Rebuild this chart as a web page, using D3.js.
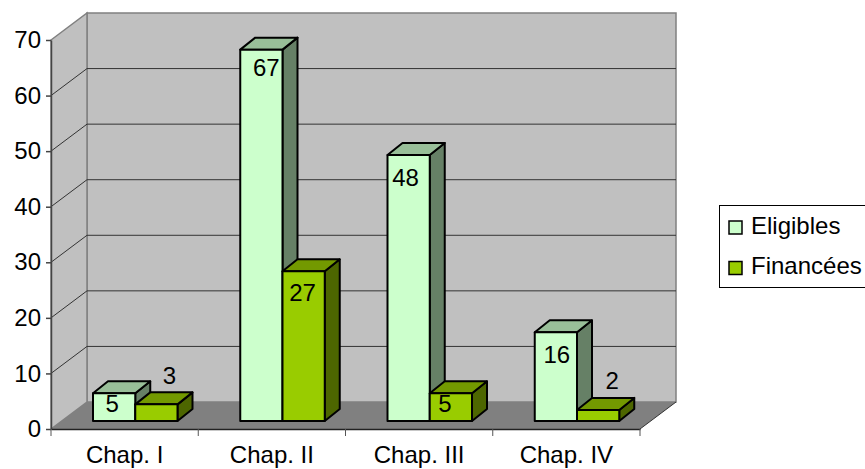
<!DOCTYPE html>
<html>
<head>
<meta charset="utf-8">
<script src="https://cdn.jsdelivr.net/npm/d3@7"></script>
<style>
  html, body { margin: 0; padding: 0; background: #fff; }
  svg { display: block; }
  text { font-family: "Liberation Sans", Arial, sans-serif; fill: #000; }
</style>
</head>
<body>
<div id="chart"></div>
<script>
// Data
const categories = ["Chap. I", "Chap. II", "Chap. III", "Chap. IV"];
const seriesNames = ["Eligibles", "Financées"];
const eligibles = [5, 67, 48, 16];
const financees = [3, 27, 5, 2];
const yTicks = [0, 10, 20, 30, 40, 50, 60, 70];

const width = 865, height = 469;
const wallDx = 36, wallDy = -27;   // depth of the floor / side wall
const barDx = 15, barDy = -12;     // depth of one bar
const fontSize = 24;

// value labels sit by hand in the original, nudges from the bar's top centre
const labelNudge = [
  { dx: [-2, 5, -3, 1], dy: [19, 26, 31, 31] },
  { dx: [13, -1, -6, 14], dy: [-20, 30, 19, -21] }
];

const colors = {
  wall: "#c0c0c0", floor: "#808080", edge: "#808080",
  front: ["#ccffcc", "#99cc00"],
  top: ["#99bf99", "#739900"],
  side: ["#668066", "#4d6600"]
};

const svg = d3.select("#chart").append("svg")
  .attr("width", width)
  .attr("height", height);

// Scales
const x = d3.scaleBand().domain(categories).range([51, 640]);
const xBar = d3.scaleBand().domain(seriesNames).range([42, 126.5]);
const y = d3.scaleLinear().domain([0, 70]).range([429, 40]);
// bars stand a bit inside the floor, so they get their own range
const yBar = d3.scaleLinear().domain([0, 70]).range([421, 33]);

const x0 = x.range()[0], x1 = x.range()[1];
const y0 = y(0), yMax = y(70);
const poly = pts => pts.map(p => p.join(",")).join(" ");

// Back wall, side wall, floor
svg.append("polygon")
  .attr("points", poly([[x0 + wallDx, yMax + wallDy], [x1 + wallDx, yMax + wallDy], [x1 + wallDx, y0 + wallDy], [x0 + wallDx, y0 + wallDy]]))
  .attr("fill", colors.wall).attr("stroke", colors.edge).attr("stroke-width", 1.5);
svg.append("polygon")
  .attr("points", poly([[x0, yMax], [x0 + wallDx, yMax + wallDy], [x0 + wallDx, y0 + wallDy], [x0, y0]]))
  .attr("fill", colors.wall).attr("stroke", colors.edge).attr("stroke-width", 1.5);
svg.append("polygon")
  .attr("points", poly([[x0, y0], [x1, y0], [x1 + wallDx, y0 + wallDy], [x0 + wallDx, y0 + wallDy]]))
  .attr("fill", colors.floor);

// Gridlines
const grid = svg.append("g").attr("fill", "none").attr("stroke", "#333").attr("stroke-width", 1);
yTicks.filter(t => t > 0 && t < 70).forEach(t => {
  grid.append("polyline")
    .attr("points", poly([[x0, y(t)], [x0 + wallDx, y(t) + wallDy], [x1 + wallDx, y(t) + wallDy]]));
});

// Floor front-right edge
svg.append("line")
  .attr("x1", x1).attr("y1", y0).attr("x2", x1 + wallDx).attr("y2", y0 + wallDy)
  .attr("stroke", "#333").attr("stroke-width", 1);

// Axes
const axisY = svg.append("g").attr("transform", `translate(${x0},0)`)
  .call(d3.axisLeft(y).tickValues(yTicks).tickSize(5).tickPadding(5).tickSizeOuter(0));
axisY.selectAll("text").style("font-size", fontSize + "px").attr("font-family", null);
axisY.selectAll("path,line").attr("stroke", "#444").attr("stroke-width", 1.5);

const axisX = svg.append("g").attr("transform", `translate(0,${y0})`)
  .call(d3.axisBottom(x).tickSize(0).tickPadding(17).tickSizeOuter(0));
axisX.selectAll("text").style("font-size", fontSize + "px").attr("font-family", null);
axisX.select("path").attr("stroke", "#222").attr("stroke-width", 1.5);
axisX.selectAll("line").remove();
axisX.selectAll(".sep")
  .data(d3.range(categories.length + 1))
  .enter().append("line")
    .attr("class", "sep")
    .attr("x1", i => x0 + i * x.bandwidth())
    .attr("x2", i => x0 + i * x.bandwidth())
    .attr("y1", 0).attr("y2", 7)
    .attr("stroke", "#555").attr("stroke-width", 1);

// Bars: 3D box for each value
const rows = [];
categories.forEach((c, i) => {
  rows.push({ cat: c, i: i, s: 0, name: seriesNames[0], value: eligibles[i] });
  rows.push({ cat: c, i: i, s: 1, name: seriesNames[1], value: financees[i] });
});

const boxes = svg.append("g").selectAll("g").data(rows).enter().append("g")
  .attr("stroke", "#000").attr("stroke-width", 2).attr("stroke-linejoin", "round");

const bx = d => x(d.cat) + xBar(d.name);
const bw = xBar.bandwidth();
const by = d => yBar(d.value);
const bb = yBar(0);

boxes.append("polygon")
  .attr("fill", d => colors.side[d.s])
  .attr("points", d => poly([[bx(d) + bw, by(d)], [bx(d) + bw + barDx, by(d) + barDy], [bx(d) + bw + barDx, bb + barDy], [bx(d) + bw, bb]]));
boxes.append("polygon")
  .attr("fill", d => colors.top[d.s])
  .attr("points", d => poly([[bx(d), by(d)], [bx(d) + bw, by(d)], [bx(d) + bw + barDx, by(d) + barDy], [bx(d) + barDx, by(d) + barDy]]));
boxes.append("rect")
  .attr("fill", d => colors.front[d.s])
  .attr("x", bx).attr("y", by).attr("width", bw).attr("height", d => bb - by(d));

// Value labels
svg.append("g").selectAll("text").data(rows).enter().append("text")
  .attr("text-anchor", "middle")
  .style("font-size", fontSize + "px")
  .attr("x", d => bx(d) + bw / 2 + labelNudge[d.s].dx[d.i])
  .attr("y", d => by(d) + labelNudge[d.s].dy[d.i])
  .text(d => d.value);

// Legend
const legend = svg.append("g");
legend.append("rect")
  .attr("x", 719.5).attr("y", 205.5).attr("width", 146).attr("height", 82)
  .attr("fill", "#fff").attr("stroke", "#000").attr("stroke-width", 1);
seriesNames.forEach((name, i) => {
  const ly = 221 + i * 40.5;
  legend.append("rect")
    .attr("x", 729).attr("y", ly).attr("width", 13).attr("height", 13)
    .attr("fill", colors.front[i]).attr("stroke", "#000").attr("stroke-width", 1.5);
  legend.append("text")
    .attr("x", 751).attr("y", ly + 12.5)
    .style("font-size", fontSize + "px")
    .text(name);
});
</script>
</body>
</html>
